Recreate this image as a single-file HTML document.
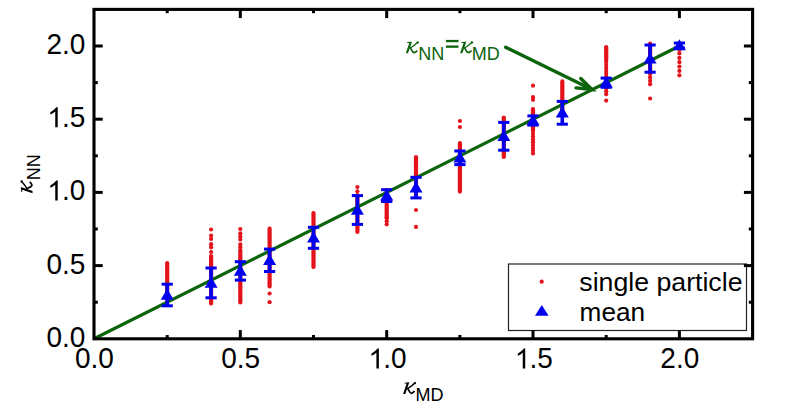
<!DOCTYPE html>
<html><head><meta charset="utf-8"><style>
html,body{margin:0;padding:0;background:#fff;width:799px;height:414px;overflow:hidden}
svg{display:block}
text{font-family:"Liberation Sans",sans-serif}
</style></head><body>
<svg width="799" height="414" viewBox="0 0 799 414">
<rect width="799" height="414" fill="#fff"/>
<g fill="#e4121a"><line x1="167.2" y1="263.2" x2="167.2" y2="303.0" stroke="#e4121a" stroke-width="4.2" stroke-linecap="round"/><line x1="211.1" y1="256.0" x2="211.1" y2="303.5" stroke="#e4121a" stroke-width="4.2" stroke-linecap="round"/><circle cx="211.1" cy="229.5" r="2.1"/><circle cx="211.1" cy="235.5" r="2.1"/><circle cx="211.1" cy="238.9" r="2.1"/><circle cx="211.1" cy="244.2" r="2.1"/><circle cx="211.1" cy="247.3" r="2.1"/><circle cx="211.1" cy="252.0" r="2.1"/><line x1="240.3" y1="250.0" x2="240.3" y2="302.5" stroke="#e4121a" stroke-width="4.2" stroke-linecap="round"/><circle cx="240.3" cy="229.0" r="2.1"/><circle cx="240.3" cy="233.4" r="2.1"/><circle cx="240.3" cy="236.5" r="2.1"/><circle cx="240.3" cy="239.4" r="2.1"/><circle cx="240.3" cy="244.4" r="2.1"/><circle cx="240.3" cy="247.3" r="2.1"/><line x1="269.6" y1="228.7" x2="269.6" y2="286.5" stroke="#e4121a" stroke-width="4.2" stroke-linecap="round"/><circle cx="269.6" cy="293.5" r="2.1"/><circle cx="269.6" cy="302.2" r="2.1"/><line x1="313.5" y1="213.0" x2="313.5" y2="267.0" stroke="#e4121a" stroke-width="4.2" stroke-linecap="round"/><line x1="357.4" y1="195.0" x2="357.4" y2="232.0" stroke="#e4121a" stroke-width="4.2" stroke-linecap="round"/><circle cx="357.4" cy="187.0" r="2.1"/><circle cx="357.4" cy="191.3" r="2.1"/><line x1="386.7" y1="190.0" x2="386.7" y2="218.0" stroke="#e4121a" stroke-width="4.2" stroke-linecap="round"/><circle cx="386.7" cy="218.0" r="2.1"/><circle cx="386.7" cy="221.2" r="2.1"/><circle cx="386.7" cy="224.3" r="2.1"/><line x1="416.0" y1="157.0" x2="416.0" y2="197.0" stroke="#e4121a" stroke-width="4.2" stroke-linecap="round"/><circle cx="416.0" cy="210.0" r="2.1"/><circle cx="416.0" cy="226.9" r="2.1"/><line x1="459.9" y1="143.0" x2="459.9" y2="191.6" stroke="#e4121a" stroke-width="4.2" stroke-linecap="round"/><circle cx="459.9" cy="121.0" r="2.1"/><circle cx="459.9" cy="127.0" r="2.1"/><line x1="503.8" y1="117.5" x2="503.8" y2="157.0" stroke="#e4121a" stroke-width="4.2" stroke-linecap="round"/><line x1="533.0" y1="109.0" x2="533.0" y2="130.0" stroke="#e4121a" stroke-width="4.2" stroke-linecap="round"/><circle cx="533.0" cy="131.0" r="2.1"/><circle cx="533.0" cy="133.8" r="2.1"/><circle cx="533.0" cy="136.6" r="2.1"/><circle cx="533.0" cy="139.4" r="2.1"/><circle cx="533.0" cy="142.2" r="2.1"/><circle cx="533.0" cy="145.1" r="2.1"/><circle cx="533.0" cy="147.9" r="2.1"/><circle cx="533.0" cy="150.7" r="2.1"/><circle cx="533.0" cy="153.5" r="2.1"/><circle cx="533.0" cy="85.7" r="2.1"/><circle cx="533.0" cy="97.2" r="2.1"/><circle cx="533.0" cy="99.8" r="2.1"/><line x1="562.3" y1="81.4" x2="562.3" y2="112.0" stroke="#e4121a" stroke-width="4.2" stroke-linecap="round"/><line x1="606.2" y1="47.0" x2="606.2" y2="60.0" stroke="#e4121a" stroke-width="4.2" stroke-linecap="round"/><circle cx="606.2" cy="62.0" r="2.1"/><circle cx="606.2" cy="64.9" r="2.1"/><circle cx="606.2" cy="67.9" r="2.1"/><circle cx="606.2" cy="70.8" r="2.1"/><circle cx="606.2" cy="73.7" r="2.1"/><circle cx="606.2" cy="76.6" r="2.1"/><circle cx="606.2" cy="79.6" r="2.1"/><circle cx="606.2" cy="82.5" r="2.1"/><circle cx="606.2" cy="85.4" r="2.1"/><circle cx="606.2" cy="88.3" r="2.1"/><circle cx="606.2" cy="91.3" r="2.1"/><circle cx="606.2" cy="94.2" r="2.1"/><circle cx="606.2" cy="100.6" r="2.1"/><line x1="650.1" y1="43.5" x2="650.1" y2="72.0" stroke="#e4121a" stroke-width="4.2" stroke-linecap="round"/><circle cx="650.1" cy="74.0" r="2.1"/><circle cx="650.1" cy="77.4" r="2.1"/><circle cx="650.1" cy="80.8" r="2.1"/><circle cx="650.1" cy="84.2" r="2.1"/><circle cx="650.1" cy="98.5" r="2.1"/><line x1="679.4" y1="45.0" x2="679.4" y2="50.0" stroke="#e4121a" stroke-width="4.2" stroke-linecap="round"/><circle cx="679.4" cy="53.5" r="2.1"/><circle cx="679.4" cy="57.9" r="2.1"/><circle cx="679.4" cy="62.2" r="2.1"/><circle cx="679.4" cy="66.6" r="2.1"/><circle cx="679.4" cy="70.9" r="2.1"/><circle cx="679.4" cy="75.3" r="2.1"/></g><line x1="94.0" y1="338.8" x2="679.4" y2="46.0" stroke="#0c640c" stroke-width="3.2"/><g fill="#0000ee" stroke="none"><rect x="165.4" y="284.2" width="3.6" height="21.6"/><rect x="161.6" y="282.7" width="11.2" height="3"/><rect x="161.6" y="304.3" width="11.2" height="3"/><polygon points="167.2,288.8 173.7,299.8 160.7,299.8"/><rect x="209.3" y="268.0" width="3.6" height="29.8"/><rect x="205.5" y="266.5" width="11.2" height="3"/><rect x="205.5" y="296.3" width="11.2" height="3"/><polygon points="211.1,276.7 217.6,287.7 204.6,287.7"/><rect x="238.5" y="261.7" width="3.6" height="18.4"/><rect x="234.8" y="260.2" width="11.2" height="3"/><rect x="234.8" y="278.6" width="11.2" height="3"/><polygon points="240.3,264.7 246.8,275.7 233.8,275.7"/><rect x="267.8" y="249.1" width="3.6" height="22.4"/><rect x="264.0" y="247.6" width="11.2" height="3"/><rect x="264.0" y="270.0" width="11.2" height="3"/><polygon points="269.6,254.1 276.1,265.1 263.1,265.1"/><rect x="311.7" y="227.3" width="3.6" height="21.0"/><rect x="307.9" y="225.8" width="11.2" height="3"/><rect x="307.9" y="246.8" width="11.2" height="3"/><polygon points="313.5,231.6 320.0,242.6 307.0,242.6"/><rect x="355.6" y="195.6" width="3.6" height="28.8"/><rect x="351.8" y="194.1" width="11.2" height="3"/><rect x="351.8" y="222.9" width="11.2" height="3"/><polygon points="357.4,203.8 363.9,214.8 350.9,214.8"/><rect x="384.9" y="189.7" width="3.6" height="11.8"/><rect x="381.1" y="188.2" width="11.2" height="3"/><rect x="381.1" y="200.0" width="11.2" height="3"/><polygon points="386.7,189.4 393.2,200.4 380.2,200.4"/><rect x="414.2" y="177.3" width="3.6" height="20.6"/><rect x="410.4" y="175.8" width="11.2" height="3"/><rect x="410.4" y="196.4" width="11.2" height="3"/><polygon points="416.0,181.4 422.5,192.4 409.5,192.4"/><rect x="458.1" y="151.0" width="3.6" height="13.6"/><rect x="454.3" y="149.5" width="11.2" height="3"/><rect x="454.3" y="163.1" width="11.2" height="3"/><polygon points="459.9,151.6 466.4,162.6 453.4,162.6"/><rect x="502.0" y="122.4" width="3.6" height="27.8"/><rect x="498.2" y="120.9" width="11.2" height="3"/><rect x="498.2" y="148.7" width="11.2" height="3"/><polygon points="503.8,130.1 510.3,141.1 497.3,141.1"/><rect x="531.2" y="115.9" width="3.6" height="9.2"/><rect x="527.4" y="114.4" width="11.2" height="3"/><rect x="527.4" y="123.6" width="11.2" height="3"/><polygon points="533.0,114.3 539.5,125.3 526.5,125.3"/><rect x="560.5" y="101.4" width="3.6" height="22.8"/><rect x="556.7" y="99.9" width="11.2" height="3"/><rect x="556.7" y="122.7" width="11.2" height="3"/><polygon points="562.3,106.6 568.8,117.6 555.8,117.6"/><rect x="604.4" y="78.1" width="3.6" height="9.2"/><rect x="600.6" y="76.6" width="11.2" height="3"/><rect x="600.6" y="85.8" width="11.2" height="3"/><polygon points="606.2,76.5 612.7,87.5 599.7,87.5"/><rect x="648.3" y="45.0" width="3.6" height="27.2"/><rect x="644.5" y="43.5" width="11.2" height="3"/><rect x="644.5" y="70.7" width="11.2" height="3"/><polygon points="650.1,52.4 656.6,63.4 643.6,63.4"/><rect x="677.6" y="43.0" width="3.6" height="5.0"/><rect x="673.8" y="41.5" width="11.2" height="3"/><rect x="673.8" y="46.5" width="11.2" height="3"/><polygon points="679.4,39.3 685.9,50.3 672.9,50.3"/></g>
<g transform="translate(402.7,37.4) scale(1.0)" fill="#0c640c"><path d="M4.5,4.7 L9.3,4.3 L5.3,15.9 L3.1,15.9 L6.6,5.6 L4.5,5.6 Z"/><path d="M7.0,10.7 C9.5,9.8 12.0,7.5 14.2,5.6" fill="none" stroke="#0c640c" stroke-width="1.4"/><circle cx="14.9" cy="5.1" r="1.2"/><path d="M7.6,10.2 C9.0,12.5 9.8,15.6 11.6,15.3 C12.6,15.1 13.6,14.2 14.6,13.2" fill="none" stroke="#0c640c" stroke-width="1.7"/></g><g transform="translate(457.0,37.4) scale(1.0)" fill="#0c640c"><path d="M4.5,4.7 L9.3,4.3 L5.3,15.9 L3.1,15.9 L6.6,5.6 L4.5,5.6 Z"/><path d="M7.0,10.7 C9.5,9.8 12.0,7.5 14.2,5.6" fill="none" stroke="#0c640c" stroke-width="1.4"/><circle cx="14.9" cy="5.1" r="1.2"/><path d="M7.6,10.2 C9.0,12.5 9.8,15.6 11.6,15.3 C12.6,15.1 13.6,14.2 14.6,13.2" fill="none" stroke="#0c640c" stroke-width="1.7"/></g>
<g fill="#0c640c">
<text x="418.2" y="60.2" font-size="18">NN</text>
<rect x="445.9" y="39.9" width="12.6" height="2.3"/><rect x="445.9" y="45.5" width="12.6" height="2.3"/>
<text x="471.7" y="60.2" font-size="18">MD</text>
</g>
<g stroke="#0c640c" stroke-width="3.4" fill="none" stroke-linecap="round">
<line x1="505.6" y1="47.3" x2="592" y2="89.5"/>
<polyline points="580.8,78.5 592,89.5 576.0,87.9"/>
</g>


<rect x="508.5" y="264" width="238" height="66.5" fill="#fff" stroke="#222" stroke-width="1.2"/>
<circle cx="541.7" cy="281.7" r="2.1" fill="#e4121a"/>
<polygon points="541.8,305 548.6,315.7 535,315.7" fill="#0000ee"/>
<text x="579.3" y="291.4" font-size="26.7" fill="#000">single particle</text>
<text x="579.6" y="320.6" font-size="26.2" fill="#000">mean</text>

<g stroke="#000" stroke-width="3"><rect x="94.0" y="9.4" width="658.6" height="329.4" fill="none" stroke="#000" stroke-width="3.1"/><line x1="167.2" y1="338.8" x2="167.2" y2="335.0"/><line x1="167.2" y1="9.4" x2="167.2" y2="13.2"/><line x1="94.0" y1="302.2" x2="97.8" y2="302.2"/><line x1="752.6" y1="302.2" x2="748.8" y2="302.2"/><line x1="240.3" y1="338.8" x2="240.3" y2="330.1"/><line x1="240.3" y1="9.4" x2="240.3" y2="18.1"/><line x1="94.0" y1="265.6" x2="102.7" y2="265.6"/><line x1="752.6" y1="265.6" x2="743.9" y2="265.6"/><line x1="313.5" y1="338.8" x2="313.5" y2="335.0"/><line x1="313.5" y1="9.4" x2="313.5" y2="13.2"/><line x1="94.0" y1="229.0" x2="97.8" y2="229.0"/><line x1="752.6" y1="229.0" x2="748.8" y2="229.0"/><line x1="386.7" y1="338.8" x2="386.7" y2="330.1"/><line x1="386.7" y1="9.4" x2="386.7" y2="18.1"/><line x1="94.0" y1="192.4" x2="102.7" y2="192.4"/><line x1="752.6" y1="192.4" x2="743.9" y2="192.4"/><line x1="459.9" y1="338.8" x2="459.9" y2="335.0"/><line x1="459.9" y1="9.4" x2="459.9" y2="13.2"/><line x1="94.0" y1="155.8" x2="97.8" y2="155.8"/><line x1="752.6" y1="155.8" x2="748.8" y2="155.8"/><line x1="533.0" y1="338.8" x2="533.0" y2="330.1"/><line x1="533.0" y1="9.4" x2="533.0" y2="18.1"/><line x1="94.0" y1="119.2" x2="102.7" y2="119.2"/><line x1="752.6" y1="119.2" x2="743.9" y2="119.2"/><line x1="606.2" y1="338.8" x2="606.2" y2="335.0"/><line x1="606.2" y1="9.4" x2="606.2" y2="13.2"/><line x1="94.0" y1="82.6" x2="97.8" y2="82.6"/><line x1="752.6" y1="82.6" x2="748.8" y2="82.6"/><line x1="679.4" y1="338.8" x2="679.4" y2="330.1"/><line x1="679.4" y1="9.4" x2="679.4" y2="18.1"/><line x1="94.0" y1="46.0" x2="102.7" y2="46.0"/><line x1="752.6" y1="46.0" x2="743.9" y2="46.0"/></g>
<g font-size="28" fill="#000"><text transform="translate(46.48,346.80) scale(1,1.05)">0.0</text><text transform="translate(74.94,368.40) scale(1,1.05)">0.0</text><text transform="translate(46.48,273.60) scale(1,1.05)">0.5</text><text transform="translate(221.29,368.40) scale(1,1.05)">0.5</text><path transform="translate(47.28,200.40) scale(0.01367,-0.01360)" d="M763,0 L583,0 L583,1147 Q518,1085 412,1023 Q306,961 222,930 L222,1104 Q373,1175 486,1276 Q599,1377 646,1466 L763,1466 Z"/><text transform="translate(62.05,200.40) scale(1,1.05)">.0</text><path transform="translate(368.44,368.40) scale(0.01367,-0.01360)" d="M763,0 L583,0 L583,1147 Q518,1085 412,1023 Q306,961 222,930 L222,1104 Q373,1175 486,1276 Q599,1377 646,1466 L763,1466 Z"/><text transform="translate(383.21,368.40) scale(1,1.05)">.0</text><path transform="translate(47.28,127.20) scale(0.01367,-0.01360)" d="M763,0 L583,0 L583,1147 Q518,1085 412,1023 Q306,961 222,930 L222,1104 Q373,1175 486,1276 Q599,1377 646,1466 L763,1466 Z"/><text transform="translate(62.05,127.20) scale(1,1.05)">.5</text><path transform="translate(514.79,368.40) scale(0.01367,-0.01360)" d="M763,0 L583,0 L583,1147 Q518,1085 412,1023 Q306,961 222,930 L222,1104 Q373,1175 486,1276 Q599,1377 646,1466 L763,1466 Z"/><text transform="translate(529.56,368.40) scale(1,1.05)">.5</text><text transform="translate(46.48,54.00) scale(1,1.05)">2.0</text><text transform="translate(660.34,368.40) scale(1,1.05)">2.0</text></g>
<g transform="translate(400,378) scale(1.0)" fill="#000"><path d="M4.5,4.7 L9.3,4.3 L5.3,15.9 L3.1,15.9 L6.6,5.6 L4.5,5.6 Z"/><path d="M7.0,10.7 C9.5,9.8 12.0,7.5 14.2,5.6" fill="none" stroke="#000" stroke-width="1.4"/><circle cx="14.9" cy="5.1" r="1.2"/><path d="M7.6,10.2 C9.0,12.5 9.8,15.6 11.6,15.3 C12.6,15.1 13.6,14.2 14.6,13.2" fill="none" stroke="#000" stroke-width="1.7"/></g><text x="15.4" y="22.9" transform="translate(400,378)" font-size="18" fill="#000">MD</text><g transform="translate(16.6,195.7) rotate(-90)"><g transform="translate(-0.7,0) scale(1.0)" fill="#000"><path d="M4.5,4.7 L9.3,4.3 L5.3,15.9 L3.1,15.9 L6.6,5.6 L4.5,5.6 Z"/><path d="M7.0,10.7 C9.5,9.8 12.0,7.5 14.2,5.6" fill="none" stroke="#000" stroke-width="1.4"/><circle cx="14.9" cy="5.1" r="1.2"/><path d="M7.6,10.2 C9.0,12.5 9.8,15.6 11.6,15.3 C12.6,15.1 13.6,14.2 14.6,13.2" fill="none" stroke="#000" stroke-width="1.7"/></g><text x="15.4" y="23.2" font-size="18" fill="#000">NN</text></g>
</svg>
</body></html>
